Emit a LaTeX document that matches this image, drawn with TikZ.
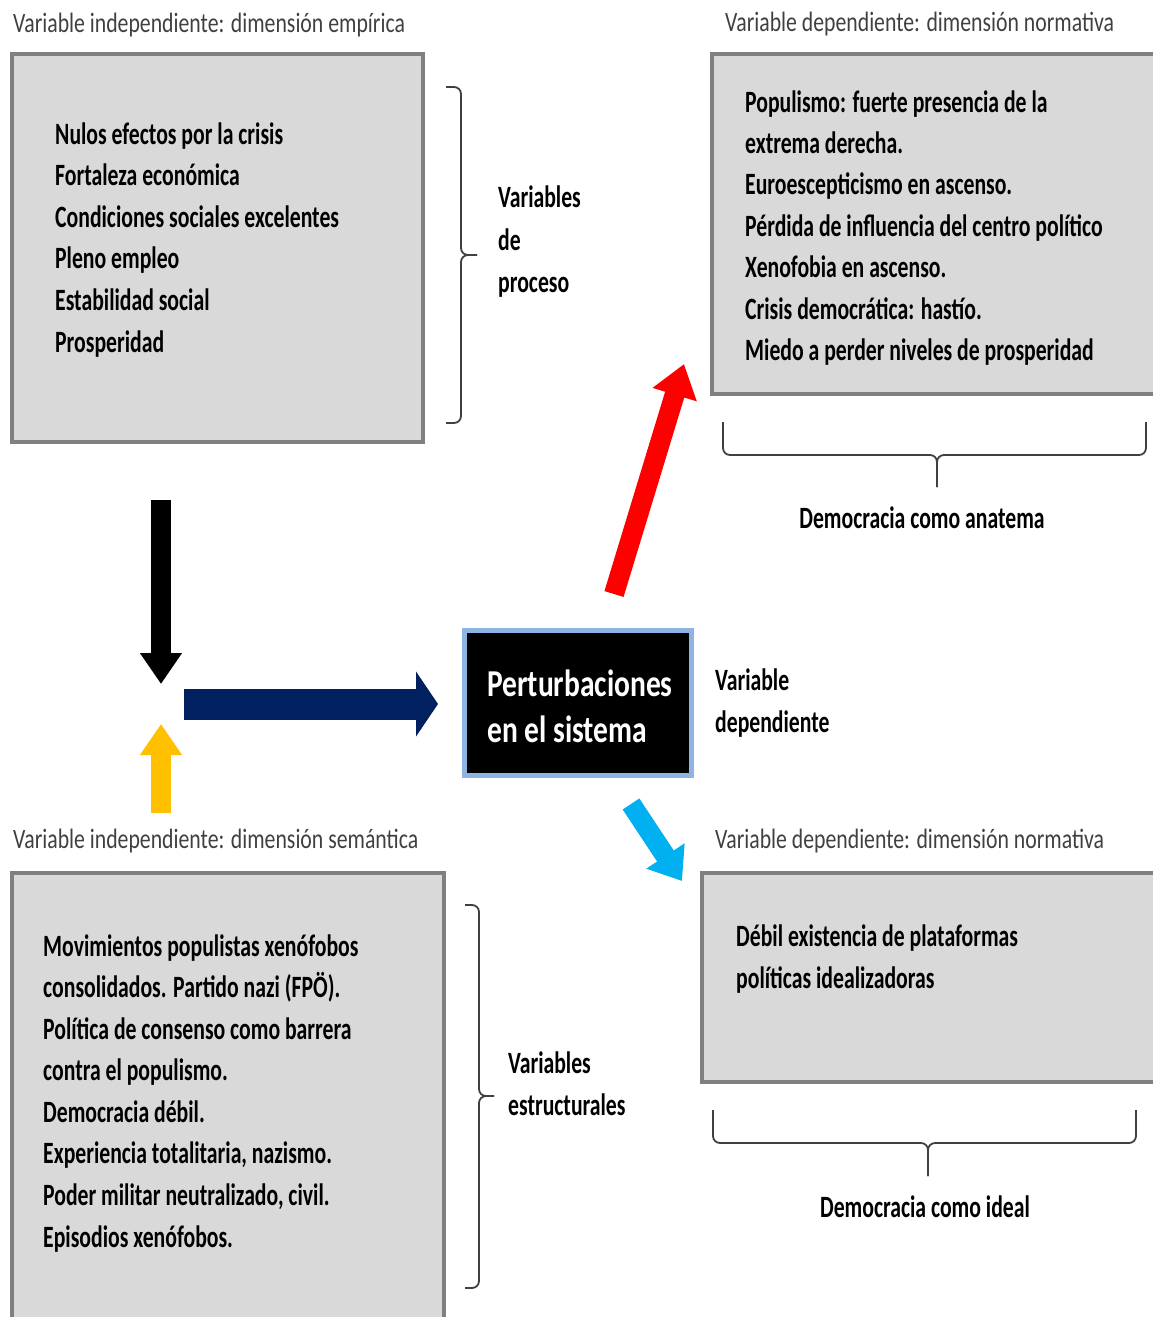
\documentclass[tikz,border=0pt]{standalone}
\usepackage{fontspec}
\setmainfont{Carlito}[FakeStretch=0.7]
\newfontfamily\headfamily{Carlito}[FakeStretch=0.777]
\usetikzlibrary{arrows.meta,positioning}

\definecolor{boxfill}{HTML}{D9D9D9}
\definecolor{boxline}{HTML}{808080}
\definecolor{titlegray}{HTML}{404040}
\definecolor{bracegray}{HTML}{404040}
\definecolor{navyblue}{HTML}{002060}
\definecolor{sunyellow}{HTML}{FFC000}
\definecolor{skyblue}{HTML}{00B0F0}
\definecolor{coreline}{HTML}{8DB4E2}

\newcommand{\bodyfont}{\fontsize{31}{41.6}\selectfont\bfseries}
\newcommand{\headfont}{\headfamily\fontsize{28}{34}\selectfont}
\newcommand{\corefont}{\headfamily\fontsize{38}{46}\selectfont\bfseries}

\begin{document}
\begin{tikzpicture}[
  x=1pt,y=-1pt,
  varbox/.style={draw=boxline,fill=boxfill,line width=4pt,anchor=north west},
  item/.style={anchor=base west,inner sep=0pt,font=\bodyfont},
  head/.style={anchor=base west,inner sep=0pt,font=\headfont,text=titlegray},
  bracket/.style={draw=bracegray,line width=1.8pt,rounded corners=7pt},
  blockarrow/.style={line width=20pt,-{Triangle[length=31pt,width=40pt]}}
]
  \useasboundingbox (0,0) rectangle (1152,1317);

  % Headings
  \node[head] (h-emp) at (13,32) {Variable independiente: dimensión empírica};
  \node[head] (h-norm) at (725,31) {Variable dependiente: dimensión normativa};
  \node[head] (h-sem) at (13,848) {Variable independiente: dimensión semántica};
  \node[head] (h-ideal) at (715,848) {Variable dependiente: dimensión normativa};

  % Grey boxes
  \node[varbox,minimum width=411,minimum height=388] (empirica) at (10,52) {};
  \node[varbox,minimum width=460,minimum height=340] (anatema) at (710,52) {};
  \node[varbox,minimum width=432,minimum height=470] (semantica) at (10,871) {};
  \node[varbox,minimum width=470,minimum height=209] (ideal) at (700,871) {};

  % Box texts
  \foreach \txt [count=\i from 0] in {Nulos efectos por la crisis,Fortaleza económica,
      Condiciones sociales excelentes,Pleno empleo,Estabilidad social,Prosperidad}
    \node[item] (emp\i) at (55,144+41.6*\i) {\txt};
  \foreach \txt [count=\i from 0] in {Populismo: fuerte presencia de la,extrema derecha.,
      Euroescepticismo en ascenso.,Pérdida de influencia del centro político,
      Xenofobia en ascenso.,Crisis democrática: hastío.,Miedo a perder niveles de prosperidad}
    \node[item] (ana\i) at (745,112+41.4*\i) {\txt};
  \foreach \txt [count=\i from 0] in {Movimientos populistas xenófobos,
      consolidados. Partido nazi (FPÖ).,Política de consenso como barrera,
      contra el populismo.,Democracia débil.,{Experiencia totalitaria, nazismo.},
      {Poder militar neutralizado, civil.},Episodios xenófobos.}
    \node[item] (sem\i) at (43,956+41.57*\i) {\txt};
  \node[item] (ide0) at (736,946) {Débil existencia de plataformas};
  \node[item] (ide1) at (736,988) {políticas idealizadoras};

  % Braces
  \draw[bracket] (446,87) -- (461,87) -- (461,255) -- (477,255);
  \draw[bracket] (446,423) -- (461,423) -- (461,255) -- (477,255);
  \draw[bracket] (465,905) -- (479,905) -- (479,1096) -- (494,1096);
  \draw[bracket] (465,1288) -- (479,1288) -- (479,1096) -- (494,1096);
  \draw[bracket] (723,422) -- (723,455) -- (937,455) -- (937,487);
  \draw[bracket] (1146,422) -- (1146,455) -- (937,455) -- (937,487);
  \draw[bracket] (713,1110) -- (713,1143) -- (928,1143) -- (928,1176);
  \draw[bracket] (1136,1110) -- (1136,1143) -- (928,1143) -- (928,1176);

  % Brace labels
  \node[item] (proc0) at (498,207) {Variables};
  \node[item] (proc1) at (498,250) {de};
  \node[item] (proc2) at (498,292) {proceso};
  \node[item] (est0) at (508,1073) {Variables};
  \node[item] (est1) at (508,1115) {estructurales};
  \node[item,anchor=base] (anat) at (922,528) {Democracia como anatema};
  \node[item,anchor=base] (idl) at (925,1217) {Democracia como ideal};

  % Central box
  \node[draw=coreline,fill=black,line width=5pt,anchor=north west,
        minimum width=227,minimum height=145] (core) at (462,628) {};
  \node[anchor=base west,inner sep=0pt,font=\corefont,text=white] (core0) at (487,696) {Perturbaciones};
  \node[anchor=base west,inner sep=0pt,font=\corefont,text=white] (core1) at (487,742) {en el sistema};
  \node[item] (dep0) at (715,690) {Variable};
  \node[item] (dep1) at (715,732) {dependiente};

  % Arrows
  \coordinate (blacktail) at (161,500);
  \coordinate (blacktip) at (161,684);
  \coordinate (yellowtail) at (161,813);
  \coordinate (yellowtip) at (161,724);
  \coordinate (navytail) at (184,704);
  \coordinate (navytip) at (438,704);
  \coordinate (redtail) at (614,594);
  \coordinate (redtip) at (684,364);
  \coordinate (skytail) at (631,804);
  \coordinate (skytip) at (682,881);
  \draw[blockarrow,black] (blacktail) -- (blacktip);
  \draw[blockarrow,sunyellow] (yellowtail) -- (yellowtip);
  \draw[navyblue,line width=31pt,-{Triangle[length=22pt,width=64pt]}] (navytail) -- (navytip);
  \draw[blockarrow,red,-{Triangle[length=32pt,width=44pt]}] (redtail) -- (redtip);
  \draw[blockarrow,skyblue,-{Triangle[length=30pt,width=44pt]}] (skytail) -- (skytip);
\end{tikzpicture}
\end{document}
